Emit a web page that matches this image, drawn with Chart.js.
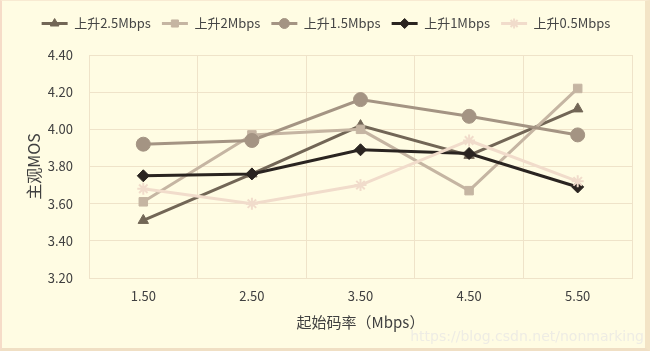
<!DOCTYPE html>
<html>
<head>
<meta charset="utf-8">
<script src="https://cdn.jsdelivr.net/npm/chart.js@4"></script>
<style>
  body { margin: 0; background: #fffce3; }
  #wrap { position: relative; width: 650px; height: 351px; background: #fffce3; }
  #frame { position: absolute; left: 0; top: 0; width: 650px; height: 351px; box-sizing: border-box;
           border-left: 2px solid #f6dcc8; border-right: 5px solid #f3e4c6; border-bottom: 3px solid #f0dfc4;
           border-top: 1px solid #f8ead2; pointer-events: none; }
  #mark { position: absolute; right: 6px; top: 328px; font: 14px "DejaVu Sans", sans-serif; color: #eeece4; }
</style>
</head>
<body>
<div id="wrap">
  <canvas id="grafico" width="650" height="351"></canvas>
  <div id="frame"></div>
  <div id="mark">https://blog.csdn.net/nonmarking</div>
</div>
<script>
const categorias = ['1.50', '2.50', '3.50', '4.50', '5.50'];
const serieNomes = ['上升2.5Mbps', '上升2Mbps', '上升1.5Mbps', '上升1Mbps', '上升0.5Mbps'];
const subida25 = [3.51, 3.76, 4.02, 3.86, 4.11];
const subida2 = [3.61, 3.97, 4.00, 3.67, 4.22];
const subida15 = [3.92, 3.94, 4.16, 4.07, 3.97];
const subida1 = [3.75, 3.76, 3.89, 3.87, 3.69];
const subida05 = [3.68, 3.60, 3.70, 3.94, 3.72];
const yTicks = [3.20, 3.40, 3.60, 3.80, 4.00, 4.20, 4.40];

const cores = ['#726656', '#c5b5a2', '#a49483', '#2a2420', '#f1dccb'];
const marcadores = ['triangle', 'rect', 'circle', 'rectRot', 'star'];
const raios = [6, 6, 7, 6, 6];
const valores = [subida25, subida2, subida15, subida1, subida05];

const fonte = '"Noto Sans CJK SC", "Noto Sans", sans-serif';

// desenha linha + marcador no lugar da caixa da legenda, e da mais espaco abaixo dela
const linhaLegenda = {
    id: 'linhaLegenda',
    beforeInit(chart) {
        const lg = chart.legend;
        if (!lg) return;
        const fitOrig = lg.fit;
        lg.fit = function () {
            fitOrig.call(this);
            this.height += 15;
        };
    },
    afterDraw(chart) {
        const lg = chart.legend;
        if (!lg || !lg.legendHitBoxes) return;
        const c = chart.ctx;
        lg.legendHitBoxes.forEach((box, i) => {
            const ds = chart.data.datasets[i];
            const cy = box.top + box.height / 2;
            const cx = box.left + 13;
            c.save();
            c.strokeStyle = ds.borderColor;
            c.fillStyle = ds.borderColor;
            c.lineWidth = 3;
            c.beginPath();
            c.moveTo(cx - 13, cy);
            c.lineTo(cx + 13, cy);
            c.stroke();
            c.lineWidth = ds.pointStyle === 'star' ? 2 : 1;
            Chart.helpers.drawPoint(c, { pointStyle: ds.pointStyle, radius: 5, rotation: 0, borderWidth: c.lineWidth }, cx, cy);
            c.restore();
        });
    }
};

const ctx = document.getElementById('grafico').getContext('2d');

const grafico = new Chart(ctx, {
    type: 'line',
    data: {
        labels: categorias,
        datasets: serieNomes.map((nome, i) => ({
            label: nome,
            data: valores[i],
            borderColor: cores[i],
            backgroundColor: cores[i],
            pointBackgroundColor: cores[i],
            pointBorderColor: cores[i],
            borderWidth: 3,
            pointStyle: marcadores[i],
            pointRadius: raios[i],
            pointBorderWidth: marcadores[i] === 'star' ? 2 : 1,
            tension: 0,
            order: 5 - i
        }))
    },
    options: {
        responsive: false,
        animation: false,
        layout: { padding: { left: 20, right: 18, top: 6, bottom: 16 } },
        plugins: {
            legend: {
                position: 'top',
                labels: {
                    boxWidth: 26,
                    boxHeight: 12,
                    color: '#454545',
                    padding: 11,
                    font: { family: fonte, size: 13 },
                    generateLabels(chart) {
                        return chart.data.datasets.map((ds, i) => ({
                            text: ds.label,
                            fillStyle: 'rgba(0,0,0,0)',
                            strokeStyle: 'rgba(0,0,0,0)',
                            lineWidth: 0,
                            fontColor: '#454545',
                            datasetIndex: i
                        }));
                    }
                }
            },
            tooltip: { enabled: false }
        },
        scales: {
            x: {
                offset: true,
                grid: { color: '#efe3c9', offset: true, drawTicks: false },
                border: { color: '#efe3c9' },
                ticks: { color: '#404040', padding: 10, font: { family: fonte, size: 13 } },
                title: { display: true, text: '起始码率（Mbps）', color: '#404040', font: { family: fonte, size: 15 }, padding: { top: 2 } },
                afterFit(scale) { scale.height = 57; }
            },
            y: {
                min: 3.2,
                max: 4.4,
                afterBuildTicks(scale) { scale.ticks = yTicks.map(v => ({ value: v })); },
                grid: { color: '#efe3c9', drawTicks: false },
                border: { color: '#efe3c9' },
                ticks: { color: '#404040', padding: 16, font: { family: fonte, size: 13 }, callback: v => Number(v).toFixed(2) },
                title: { display: true, text: '主观MOS', color: '#404040', font: { family: fonte, size: 16 }, padding: { bottom: 2 } },
                afterFit(scale) { scale.width = 69; }
            }
        }
    },
    plugins: [linhaLegenda]
});
</script>
</body>
</html>
